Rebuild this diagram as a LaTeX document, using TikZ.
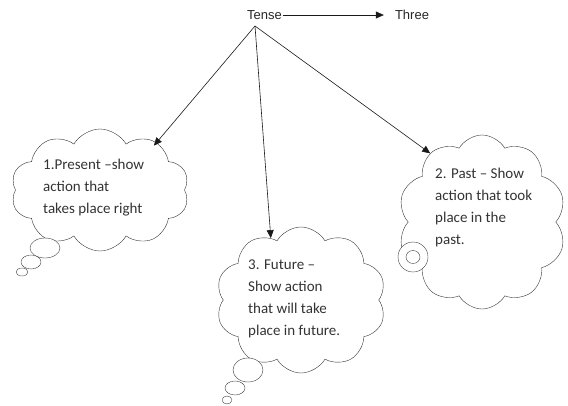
\documentclass[tikz,border=0pt]{standalone}
\usepackage{fontspec}
\setmainfont{Carlito}
\newfontfamily\arialfont{Liberation Sans}
\usetikzlibrary{shapes.symbols,arrows.meta}
\tikzset{
  thought/.style={cloud,draw=black!80,cloud puffs=10,cloud puff arc=120,cloud ignores aspect,inner sep=0pt},
  bubbletext/.style={anchor=west,align=left,inner sep=0pt,text=black!80,font=\fontsize{15}{22}\selectfont},
  topword/.style={inner sep=1pt,text=black!85,font=\arialfont\fontsize{13}{15}\selectfont},
  link/.style={-{Triangle[length=8pt,width=7pt]},draw=black!90,line width=0.6pt},
  puff/.style={draw=black!75,fill=white},
}
\begin{document}
\begin{tikzpicture}[x=1pt,y=-1pt]
		\useasboundingbox (0,0) rectangle (568,405);
		% top line
		\node[topword] (tense) at (264.5,15) {Tense};
		\node[topword] (three) at (412,15) {Three};
		\coordinate (fork) at (255,26);
		% the three clouds
		\node[thought,minimum width=178pt,minimum height=122pt] (present) at (100,190) {};
		\node[thought,minimum width=170pt,minimum height=146pt] (future) at (301,300) {};
		\node[thought,minimum width=168pt,minimum height=174pt] (past) at (482,222) {};
		\node[bubbletext] (presenttext) at (43,188) {1.Present –show\\action that\\takes place right};
		\node[bubbletext] (futuretext) at (248,298.5) {3. Future –\\Show action\\that will take\\place in future.};
		\node[bubbletext] (pasttext) at (435,207.5) {2. Past – Show\\action that took\\place in the\\past.};
		% tails
		\draw[puff] (45,248) ellipse [x radius=15pt,y radius=10pt];
		\draw[puff] (31,262) ellipse [x radius=10pt,y radius=7pt];
		\draw[puff] (22,272) ellipse [x radius=6pt,y radius=4pt];
		\draw[puff] (248,370) ellipse [x radius=15pt,y radius=12pt];
		\draw[puff] (235,388) ellipse [x radius=10pt,y radius=7pt];
		\draw[puff] (227,400) ellipse [x radius=5pt,y radius=4pt];
		\draw[puff] (413,257) circle [radius=15pt];
		\draw[puff] (413,257) ellipse [x radius=7pt,y radius=6.5pt];
		% arrows
		\draw[link,shorten >=10pt] (tense.east) -- (three.west);
		\draw[link,shorten >=-4pt] (fork) -- (present.40);
		\draw[link] (fork) -- (future.116);
		\draw[link] (fork) -- (past.127);
\end{tikzpicture}
\end{document}
